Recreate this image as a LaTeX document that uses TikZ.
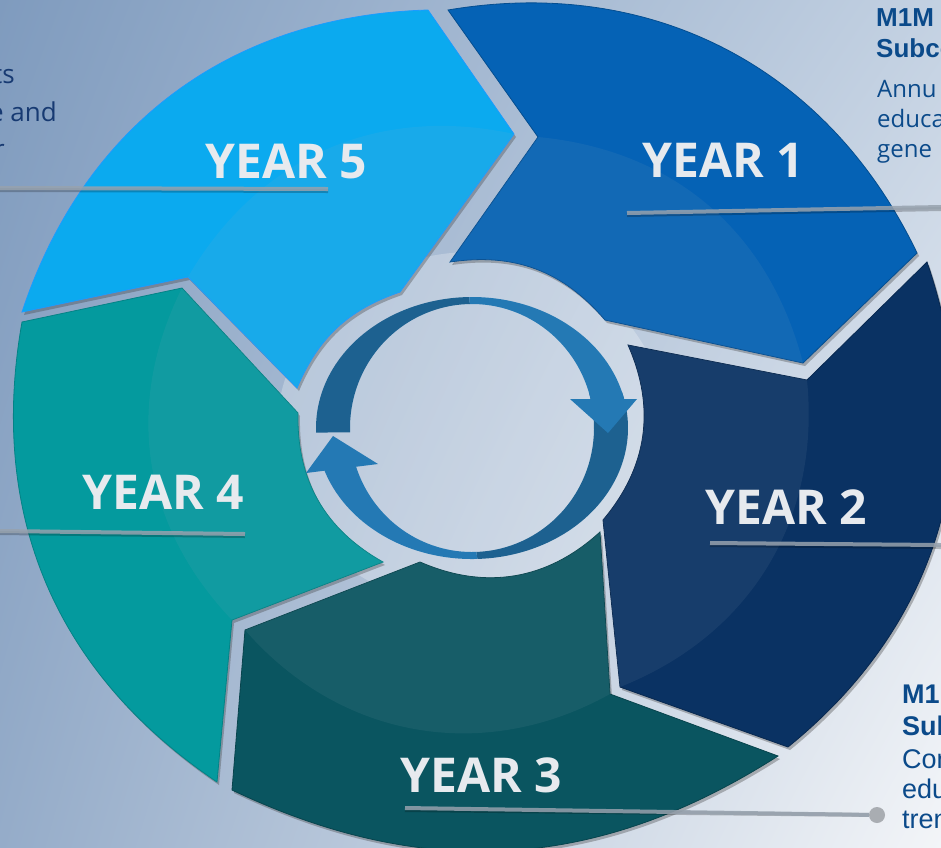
\documentclass[tikz,border=0pt]{standalone}
\usepackage{fontspec}
\setmainfont{Open Sans}
\newfontfamily\arialfont{Liberation Sans}
\usetikzlibrary{shadows,shadings}

\definecolor{bgul}{HTML}{7F9BBE}
\definecolor{bgur}{HTML}{C3D1E2}
\definecolor{bgll}{HTML}{95ACC9}
\definecolor{bglr}{HTML}{F3F5F8}
\definecolor{yearone}{HTML}{0562B5}
\definecolor{yeartwo}{HTML}{0A3263}
\definecolor{yearthree}{HTML}{0A5560}
\definecolor{yearfour}{HTML}{049A9E}
\definecolor{yearfive}{HTML}{0BAAEF}
\definecolor{fiveedge}{HTML}{1B9CFF}
\definecolor{glossgray}{HTML}{9FB0C0}
\definecolor{arrowdark}{HTML}{1D6190}
\definecolor{arrowlight}{HTML}{2479B4}
\definecolor{labelgray}{HTML}{E7EAEE}
\definecolor{leadergray}{HTML}{97A2AE}
\definecolor{dotgray}{HTML}{A9ADB2}
\definecolor{sidenavy}{HTML}{0B4A8A}
\definecolor{leftnavy}{HTML}{173A72}

\tikzset{
  segment/.style={line width=0.8pt, drop shadow={shadow xshift=2pt, shadow yshift=-3pt, opacity=0.35, fill=black!75}},
  gloss/.style={fill=glossgray, fill opacity=0.09},
  yearlabel/.style={text=labelgray, inner sep=0pt, font=\fontsize{48}{48}\selectfont\bfseries},
  leader/.style={line width=4pt, leadergray, opacity=0.85},
  leadershadow/.style={line width=4pt, black, opacity=0.22},
  sidetitle/.style={text=sidenavy, inner sep=0pt, anchor=base west, font=\arialfont\fontsize{26}{26}\selectfont\bfseries},
  sidebody/.style={text=sidenavy, inner sep=0pt, anchor=base west, font=\fontsize{24}{24}\selectfont},
  lowtitle/.style={text=sidenavy, inner sep=0pt, anchor=base west, font=\arialfont\fontsize{27}{27}\selectfont\bfseries},
  lowbody/.style={text=sidenavy, inner sep=0pt, anchor=base west, font=\arialfont\fontsize{27}{27}\selectfont},
  leftbody/.style={text=leftnavy, inner sep=0pt, anchor=base east, font=\fontsize{26}{26}\selectfont}
}

\begin{document}
\begin{tikzpicture}[x=1pt, y=1pt]
\useasboundingbox (0,0) rectangle (941,-847);
\clip (0,0) rectangle (941,-847);

% background
\shade[shading=bilinear interpolation, upper left=bgul, upper right=bgur, lower left=bgll, lower right=bglr] (0,0) rectangle (941,-847);
\fill[white, opacity=0.25] (472,-430) ellipse[x radius=195, y radius=178];

% YEAR 3
\draw[segment, fill=yearthree, draw=yearthree!80!black]
  (778,-756) to[bend left=29] (232,-790) -- (245,-630) -- (420,-562)
  to[bend right=33] (600,-532) -- (610,-694) -- cycle;
\fill[gloss] (420,-562) to[bend right=33] (600,-532) -- (610,-694) to[bend left=39] (245,-630) -- cycle;
% YEAR 2
\draw[segment, fill=yeartwo, draw=yeartwo!80!black]
  (927,-262) to[bend left=35] (788,-747) -- (620,-687) -- (603,-520)
  to[bend right=32] (628,-345) -- (807,-380) -- cycle;
\fill[gloss] (603,-520) to[bend right=32] (628,-345) -- (807,-380) to[bend left=37] (620,-687) -- cycle;
% YEAR 4
\draw[segment, fill=yearfour, draw=yearfour!85!black]
  (217,-782) to[bend left=33] (22,-322) -- (182,-288) -- (298,-413)
  to[bend right=31] (383,-562) -- (232,-620) -- cycle;
\fill[gloss] (298,-413) to[bend right=31] (383,-562) -- (232,-620) to[bend left=35] (182,-288) -- cycle;
% YEAR 1
\draw[segment, fill=yearone, draw=yearone!80!black]
  (448,-10) to[bend left=37] (917,-253) -- (803,-363) -- (605,-320)
  to[bend right=29] (450,-262) -- (538,-137) -- cycle;
\fill[gloss] (605,-320) to[bend right=29] (450,-262) -- (538,-137) to[bend left=35] (803,-363) -- cycle;
% YEAR 5
\draw[segment, fill=yearfive, draw=fiveedge]
  (22,-312) to[bend left=35] (428,-10) -- (514,-134) -- (400,-292)
  to[bend right=24] (297,-388) -- (188,-277) -- cycle;
\fill[gloss] (400,-292) to[bend right=24] (297,-388) -- (188,-277) to[bend left=36] (514,-134) -- cycle;

% circular arrows in the middle
\begin{scope}[shift={(472,-428)}]
  \fill[arrowdark] (16:156 and 131) arc[start angle=16, end angle=-88, x radius=156, y radius=131]
    -- (-88:122 and 124) arc[start angle=-88, end angle=16, x radius=122, y radius=124] -- cycle;
  \fill[arrowdark] (91:156 and 131) arc[start angle=91, end angle=182, x radius=156, y radius=131]
    -- (182:122 and 124) arc[start angle=182, end angle=91, x radius=122, y radius=124] -- cycle;
  \fill[arrowlight] (91:156 and 131) arc[start angle=91, end angle=12.8, x radius=156, y radius=131]
    -- (12.8:122 and 124) arc[start angle=12.8, end angle=91, x radius=122, y radius=124] -- cycle;
  \fill[arrowlight] (98,29) -- (165,29) -- (136,-5) -- cycle;
  \fill[arrowlight] (-88:156 and 131) arc[start angle=-88, end angle=-162, x radius=156, y radius=131]
    -- (-162:122 and 124) arc[start angle=-162, end angle=-88, x radius=122, y radius=124] -- cycle;
  \fill[arrowlight] (-166,-45) -- (-94,-36) -- (-139,-8) -- cycle;
\end{scope}

% labels
\node[yearlabel] (yfive) at (286,-162) {YEAR 5};
\node[yearlabel] (yone) at (723,-160) {YEAR 1};
\node[yearlabel] (yfour) at (163,-492) {YEAR 4};
\node[yearlabel] (ytwo) at (786,-507) {YEAR 2};
\node[yearlabel] (ythree) at (481,-775) {YEAR 3};

% leader lines
\coordinate (lfive-a) at (0,-188);   \coordinate (lfive-b) at (328,-189);
\coordinate (lone-a) at (627,-213);  \coordinate (lone-b) at (941,-207);
\coordinate (lfour-a) at (0,-531);   \coordinate (lfour-b) at (245,-534);
\coordinate (ltwo-a) at (710,-543);  \coordinate (ltwo-b) at (941,-545);
\coordinate (lthree-a) at (405,-808);
\node[circle, fill=dotgray, minimum size=16pt, inner sep=0pt] (lthree-b) at (877,-815) {};
\foreach \a/\b in {lfive-a/lfive-b, lone-a/lone-b, lfour-a/lfour-b, ltwo-a/ltwo-b, lthree-a/lthree-b}
  \draw[leadershadow] ([yshift=-2pt]\a) -- ([yshift=-2pt]\b);
\foreach \a/\b in {lfive-a/lfive-b, lone-a/lone-b, lfour-a/lfour-b, ltwo-a/ltwo-b, lthree-a/lthree-b}
  \draw[leader] (\a) -- (\b);

% side texts, cut by the frame
\node[leftbody] (lta) at (15,-83) {ts};
\node[leftbody] (ltb) at (57,-121) {e and};
\node[leftbody] (ltc) at (5,-158) {r};

\node[sidetitle] (tra) at (876,-26) {M1M};
\node[sidetitle] (trb) at (876,-57) {Subco};
\node[sidebody] (trc) at (877,-97) {Annu};
\node[sidebody] (trd) at (877,-127) {educa};
\node[sidebody] (tre) at (877,-157) {gene};

\node[lowtitle] (bra) at (902,-703) {M1};
\node[lowtitle] (brb) at (902,-735) {Sub};
\node[lowbody] (brc) at (902,-768) {Con};
\node[lowbody] (brd) at (902,-798) {edu};
\node[lowbody] (bre) at (902,-828) {tren};
\end{tikzpicture}
\end{document}
